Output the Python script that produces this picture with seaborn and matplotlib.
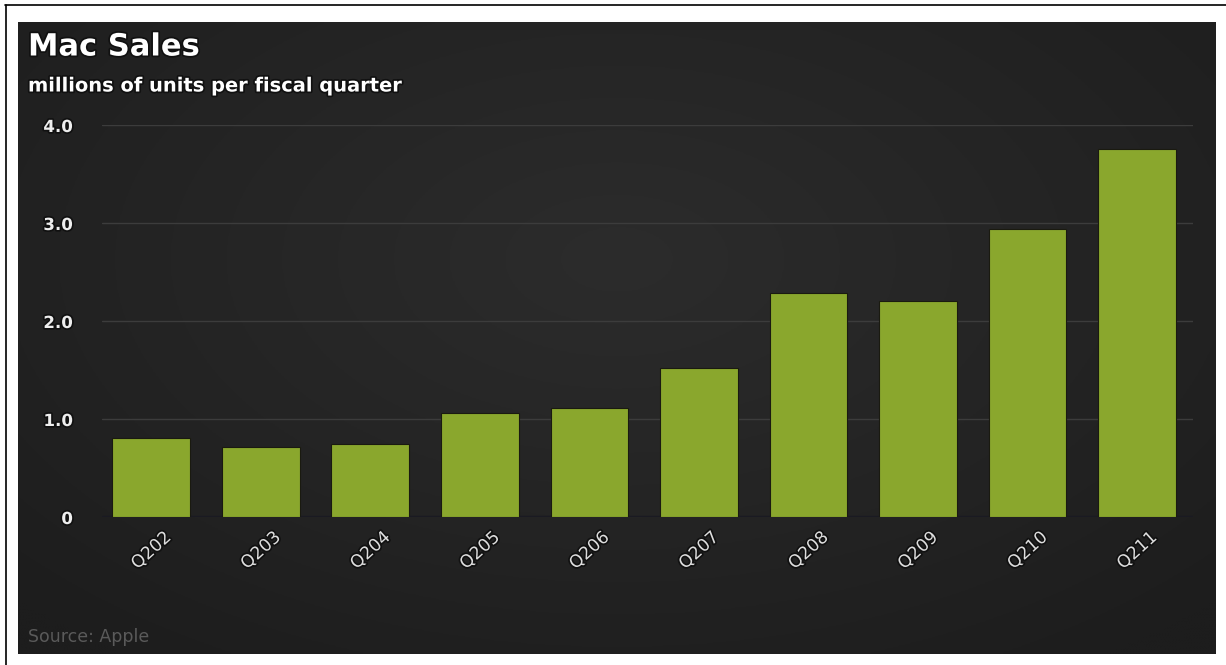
import numpy as np
import matplotlib
matplotlib.use("Agg")
import matplotlib.pyplot as plt
import seaborn as sns
from matplotlib.lines import Line2D
import matplotlib.patheffects as pe

quarters = ["Q202", "Q203", "Q204", "Q205", "Q206", "Q207", "Q208", "Q209", "Q210", "Q211"]
sales = [0.81, 0.71, 0.74, 1.06, 1.11, 1.52, 2.29, 2.20, 2.94, 3.76]
y_ticks = [0, 1, 2, 3, 4]
y_tick_labels = ["0", "1.0", "2.0", "3.0", "4.0"]

sns.set_theme(style="dark")
plt.rcParams['font.family'] = ['DejaVu Sans']

W, H = 1226, 665
fig = plt.figure(figsize=(W / 100, H / 100), dpi=100, facecolor="white")

# dark panel with soft radial gradient
px0, py0, px1, py1 = 18, 22, 1216, 654
bg = fig.add_axes([px0 / W, 1 - py1 / H, (px1 - px0) / W, (py1 - py0) / H], zorder=0)
yy, xx = np.mgrid[-1:1:200j, -1:1:400j]
r = np.sqrt((xx / 1.0) ** 2 + ((yy + 0.25) / 1.1) ** 2)
grad = np.clip(1 - r / 1.4, 0, 1)
c_edge = np.array([0x1d, 0x1d, 0x1d]) / 255
c_mid = np.array([0x2c, 0x2c, 0x2c]) / 255
img = c_edge[None, None, :] + (c_mid - c_edge)[None, None, :] * grad[..., None]
bg.imshow(img, aspect="auto", extent=[0, 1, 0, 1])
bg.set_axis_off()

# outer black frame lines (top and left)
fig.add_artist(Line2D([5 / W, 1], [1 - 5 / H, 1 - 5 / H], color="black", lw=1.2, transform=fig.transFigure))
fig.add_artist(Line2D([6 / W, 6 / W], [0, 1 - 5 / H], color="black", lw=1.2, transform=fig.transFigure))

# main axes
ax = fig.add_axes([102 / W, 1 - 517 / H, (1193 - 102) / W, (517 - 125) / H], zorder=1)
ax.set_facecolor("none")
sns.barplot(x=quarters, y=sales, color="#8aa72d", saturation=1, width=0.71, ax=ax,
            edgecolor="#1a1a10", linewidth=0.8, zorder=3)
ax.set_xlim(-0.45, 9.51)
ax.set_ylim(0, 4.0)
ax.set_yticks(y_ticks)
ax.set_yticklabels(y_tick_labels)
ax.set_xlabel("")
ax.set_ylabel("")
for s in ax.spines.values():
    s.set_visible(False)
ax.yaxis.grid(True, color="#3c3c3c", lw=1.0, zorder=0)
ax.set_axisbelow(True)
ax.axhline(0, color="#1a1a22", lw=2.5, zorder=2)
ax.tick_params(axis="y", length=0, pad=21, labelsize=12, labelcolor="#eeeeee")
for t in ax.get_yticklabels():
    t.set_fontweight("bold")
    t.set_clip_on(False)
ax.tick_params(axis="x", length=0, pad=8, labelsize=12.5, labelcolor="#dddddd")
for t in ax.get_xticklabels():
    t.set_rotation(42)
    t.set_ha("center")
    t.set_va("top")
halo = [pe.withStroke(linewidth=2.5, foreground="#111111")]
for t in ax.get_xticklabels() + ax.get_yticklabels():
    t.set_path_effects(halo)

# titles
fig.text(28 / W, 1 - 47 / H, "Mac Sales", color="white", fontsize=22, fontweight="bold",
         ha="left", va="center", path_effects=halo)
fig.text(28 / W, 1 - 86 / H, "millions of units per fiscal quarter", color="white", fontsize=14,
         fontweight="bold", ha="left", va="center", path_effects=halo)
fig.text(28 / W, 1 - 637 / H, "Source: Apple", color="#5a5a5a", fontsize=12.5,
         ha="left", va="center")

fig.savefig("out.png", dpi=100, facecolor="white")
